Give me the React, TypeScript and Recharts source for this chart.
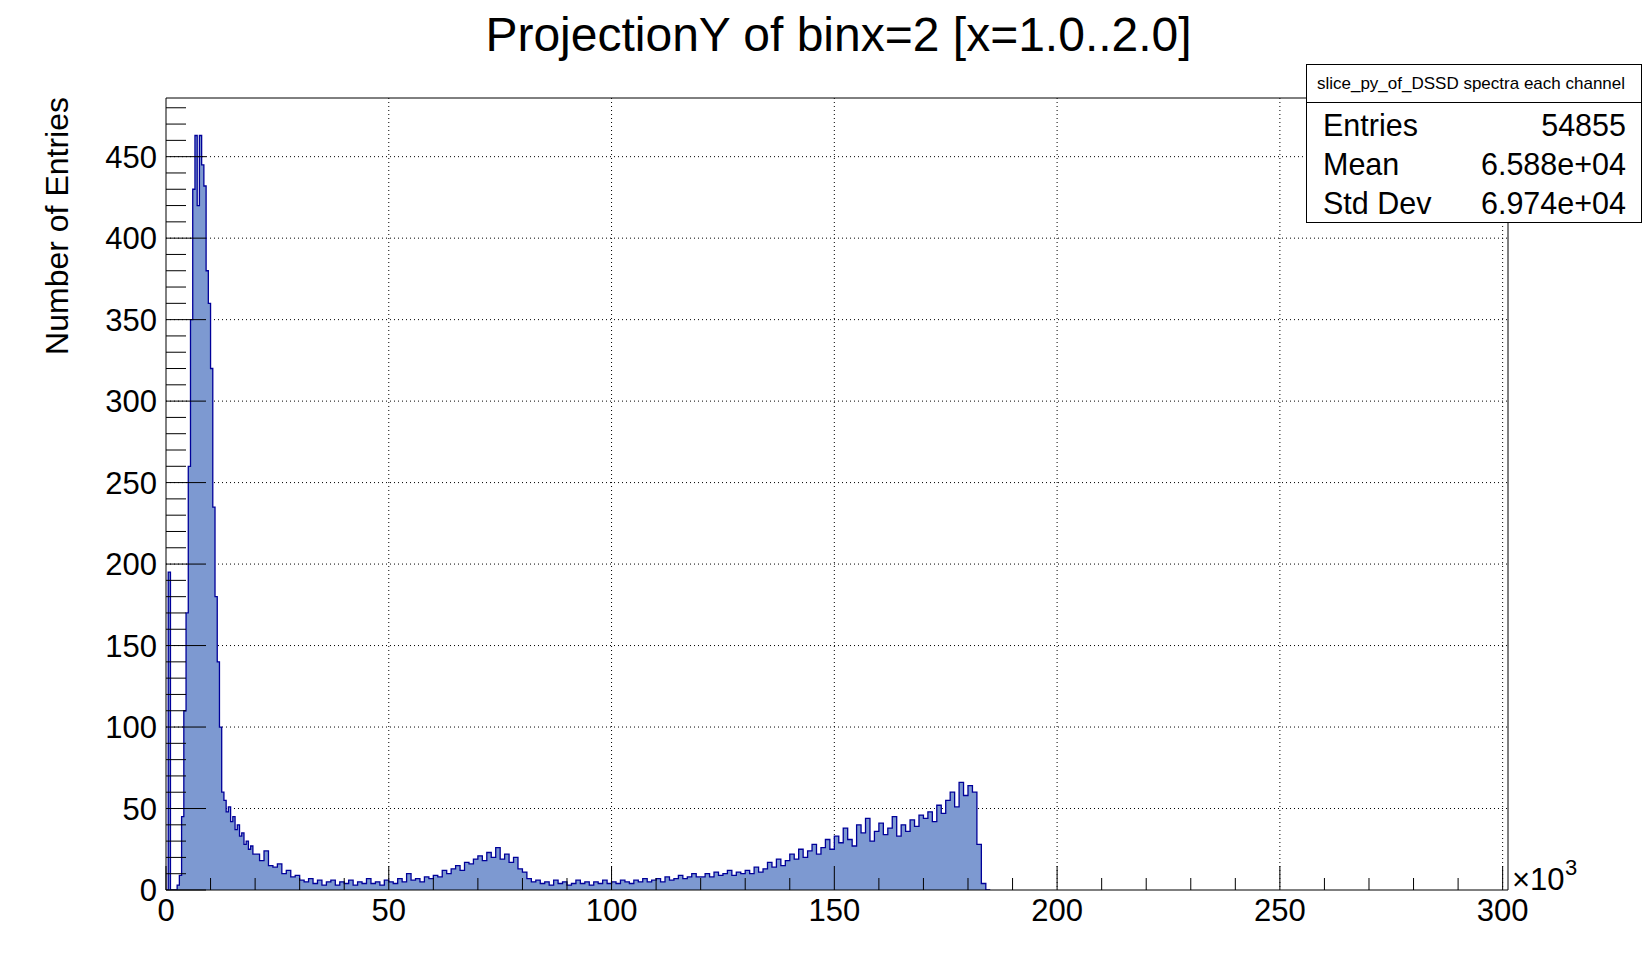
import { ComposedChart, Area, XAxis, YAxis, CartesianGrid, ReferenceLine } from "recharts";

const W = 1649;
const H = 959;
const FONT = "'Liberation Sans', Arial, Helvetica, sans-serif";

// x axis in units of 10^3
const X_MAX = 301.2;
const Y_MAX = 486;

// 0 – 20k, bins of 0.5k
const FINE_START = 0;
const FINE_WIDTH = 0.5;
const fineCounts = [
  0, 195, 0, 0, 0, 3, 9, 45, 110, 170,
  260, 350, 430, 463, 420, 463, 445, 432, 380, 360,
  320, 235, 180, 140, 100, 60, 55, 48, 51, 42,
  45, 37, 40, 33, 35, 28, 30, 25, 27, 22,
];

// 20k – 185k, bins of 1k
const COARSE_START = 20;
const COARSE_WIDTH = 1;
const coarseCounts = [
  22, 18, 24, 15, 14, 16, 10, 12, 8, 9,
  6, 5, 7, 4, 6, 3, 5, 6, 3, 5,
  4, 6, 3, 5, 4, 7, 4, 5, 3, 6,
  5, 4, 7, 5, 10, 6, 7, 5, 8, 7,
  9, 8, 12, 10, 13, 15, 12, 17, 16, 19,
  21, 18, 23, 20, 26, 19, 22, 17, 20, 13,
  11, 7, 5, 6, 4, 5, 3, 6, 4, 5,
  3, 4, 6, 4, 5, 3, 5, 4, 6, 4,
  5, 4, 6, 5, 4, 6, 5, 7, 5, 6,
  7, 5, 8, 6, 7, 9, 7, 8, 10, 8,
  8, 10, 8, 11, 9, 10, 12, 9, 11, 10,
  12, 10, 14, 11, 13, 17, 14, 19, 15, 18,
  22, 19, 25, 20, 24, 28, 22, 26, 31, 25,
  33, 29, 38, 31, 27, 40, 35, 44, 30, 36,
  41, 34, 38, 45, 33, 40, 36, 43, 39, 46,
  44, 48, 42, 52, 47, 55, 60, 51, 66, 58,
  64, 60, 28, 4, 0,
];

const xTicks = Array.from({ length: 31 }, (_, i) => i * 10);
const yTicks = Array.from({ length: 49 }, (_, i) => i * 10);
const xMajor = [50, 100, 150, 200, 250, 300];
const yMajor = [50, 100, 150, 200, 250, 300, 350, 400, 450];

const stats = [
  { label: "Entries", value: "54855" },
  { label: "Mean", value: "6.588e+04" },
  { label: "Std Dev", value: "6.974e+04" },
];

// step points at bin low edges, closed with the last bin's upper edge
const histData = (() => {
  const pts: { x: number; y: number }[] = [];
  fineCounts.forEach((c, i) => pts.push({ x: FINE_START + i * FINE_WIDTH, y: c }));
  coarseCounts.forEach((c, i) => pts.push({ x: COARSE_START + i * COARSE_WIDTH, y: c }));
  const last = coarseCounts[coarseCounts.length - 1];
  pts.push({ x: COARSE_START + coarseCounts.length * COARSE_WIDTH, y: last });
  return pts;
})();

const TICK_MARGIN = 0;

function XTick(props: any) {
  const { x, y, payload } = props;
  const axisY = y - TICK_MARGIN;
  const major = payload.value % 50 === 0;
  return (
    <g>
      <line x1={x} x2={x} y1={axisY} y2={axisY - (major ? 24 : 12)} stroke="#000" strokeWidth={1} />
      {major && (
        <text x={x} y={axisY + 31} textAnchor="middle" fontSize={31} fontFamily={FONT} fill="#000">
          {payload.value}
        </text>
      )}
    </g>
  );
}

function YTick(props: any) {
  const { x, y, payload } = props;
  const axisX = x + TICK_MARGIN;
  const major = payload.value % 50 === 0;
  return (
    <g>
      <line x1={axisX} x2={axisX + (major ? 40 : 20)} y1={y} y2={y} stroke="#000" strokeWidth={1} />
      {major && (
        <text x={axisX - 9} y={y + 11} textAnchor="end" fontSize={31} fontFamily={FONT} fill="#000">
          {payload.value}
        </text>
      )}
    </g>
  );
}

export default function App() {
  return (
    <div style={{ position: "absolute", left: 0, top: 0, width: W, height: H, background: "#fff" }}>
      <ComposedChart
        width={W}
        height={H}
        data={histData}
        margin={{ top: 98, right: 141, bottom: 0, left: 0 }}
      >
        <CartesianGrid
          horizontalValues={yMajor}
          verticalValues={xMajor}
          stroke="#000"
          strokeWidth={1}
          strokeDasharray="1 3"
        />
        <Area
          type="stepAfter"
          dataKey="y"
          stroke="#000099"
          strokeWidth={1.3}
          fill="#7d99d1"
          fillOpacity={1}
          isAnimationActive={false}
          dot={false}
          activeDot={false}
        />
        <ReferenceLine y={Y_MAX} stroke="#000" strokeWidth={1} />
        <ReferenceLine x={X_MAX} stroke="#000" strokeWidth={1} />
        <XAxis
          dataKey="x"
          type="number"
          domain={[0, X_MAX]}
          allowDataOverflow
          ticks={xTicks}
          interval={0}
          tickSize={0}
          tickMargin={TICK_MARGIN}
          tick={XTick}
          height={69}
          axisLine={{ stroke: "#000", strokeWidth: 1 }}
        />
        <YAxis
          type="number"
          domain={[0, Y_MAX]}
          allowDataOverflow
          ticks={yTicks}
          interval={0}
          tickSize={0}
          tickMargin={TICK_MARGIN}
          tick={YTick}
          width={166}
          axisLine={{ stroke: "#000", strokeWidth: 1 }}
        />
      </ComposedChart>

      <svg
        width={W}
        height={H}
        style={{ position: "absolute", left: 0, top: 0, pointerEvents: "none" }}
        fontFamily={FONT}
      >
        <text x={838.5} y={50.5} textAnchor="middle" fontSize={48} fill="#000">
          ProjectionY of binx=2 [x=1.0..2.0]
        </text>
        <text transform="translate(68,97) rotate(-90)" textAnchor="end" fontSize={32} fill="#000">
          Number of Entries
        </text>
        <text x={1512} y={890} fontSize={31} fill="#000">×10</text>
        <text x={1565} y={875} fontSize={22} fill="#000">3</text>

        <rect x={1306.5} y={64.5} width={335} height={158} fill="#fff" stroke="#000" strokeWidth={1} />
        <line x1={1306.5} x2={1641.5} y1={102.5} y2={102.5} stroke="#000" strokeWidth={1} />
        <text x={1471} y={89} textAnchor="middle" fontSize={17} fill="#000">
          slice_py_of_DSSD spectra each channel
        </text>
        {stats.map((s, i) => (
          <g key={s.label}>
            <text x={1323} y={136 + i * 39} fontSize={30.5} fill="#000">{s.label}</text>
            <text x={1626} y={136 + i * 39} textAnchor="end" fontSize={30.5} fill="#000">{s.value}</text>
          </g>
        ))}
      </svg>
    </div>
  );
}
